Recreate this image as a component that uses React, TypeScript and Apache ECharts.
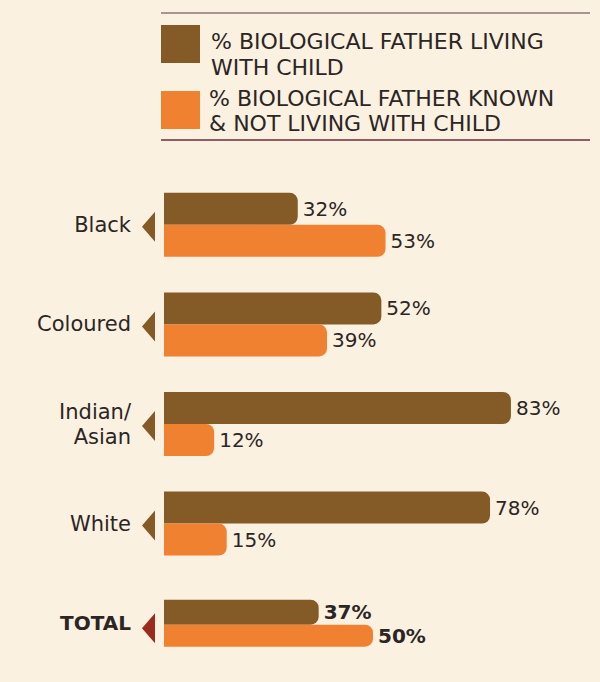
import React, { useEffect, useRef } from "react";
import * as echarts from "echarts";

const categories = ["Black", "Coloured", "Indian/\nAsian", "White", "TOTAL"];
const livingWith = [32, 52, 83, 78, "-"];
const knownNotLiving = [53, 39, 12, 15, "-"];
const totalLivingWith = ["-", "-", "-", "-", 37];
const totalKnownNotLiving = ["-", "-", "-", "-", 50];
const legendLiving = "% BIOLOGICAL FATHER LIVING\nWITH CHILD";
const legendKnown = "% BIOLOGICAL FATHER KNOWN\n& NOT LIVING WITH CHILD";

const BROWN = "#845a26";
const ORANGE = "#f08131";
const TEXT = "#2b2624";
const BG = "#fbf1e1";
const FONT = "DejaVu Sans";

export default function App() {
  const ref = useRef<HTMLDivElement>(null);
  useEffect(() => {
    document.body.style.margin = "0";
    const chart = echarts.init(ref.current!, null, { renderer: "svg" });
    const valueLabel = (bold: boolean) => ({
      show: true,
      position: "right",
      distance: 5,
      formatter: "{c}%",
      fontFamily: FONT,
      fontSize: 20,
      fontWeight: bold ? "bold" : "normal",
      color: TEXT,
    });
    const catAxis = (show: boolean) => ({
      type: "category",
      data: categories,
      inverse: true,
      show,
      axisLine: { show: false },
      axisTick: { show: false },
      axisLabel: {
        show,
        margin: 33,
        fontFamily: FONT,
        fontSize: 21,
        lineHeight: 25,
        color: TEXT,
        align: "right",
        formatter: (v: string) => (v === "TOTAL" ? "{b|TOTAL}" : v),
        rich: {
          b: { fontFamily: FONT, fontSize: 20, fontWeight: "bold", color: TEXT },
        },
      },
    });
    chart.setOption({
      animation: false,
      backgroundColor: BG,
      grid: { left: 164, right: 18, top: 175, bottom: 9 },
      xAxis: { type: "value", min: 0, max: 100, show: false },
      yAxis: [catAxis(true), catAxis(false)],
      series: [
        {
          type: "bar",
          name: "living",
          yAxisIndex: 0,
          data: livingWith,
          barWidth: 32,
          barGap: "0%",
          itemStyle: { color: BROWN, borderRadius: [0, 8, 8, 0] },
          label: valueLabel(false),
        },
        {
          type: "bar",
          name: "known",
          yAxisIndex: 0,
          data: knownNotLiving,
          barWidth: 32,
          barGap: "0%",
          itemStyle: { color: ORANGE, borderRadius: [0, 8, 8, 0] },
          label: valueLabel(false),
        },
        {
          type: "bar",
          name: "living total",
          yAxisIndex: 1,
          data: totalLivingWith,
          barWidth: 25,
          barGap: "0%",
          itemStyle: { color: BROWN, borderRadius: [0, 8, 8, 0] },
          label: valueLabel(true),
        },
        {
          type: "bar",
          name: "known total",
          yAxisIndex: 1,
          data: totalKnownNotLiving,
          barWidth: 22,
          barGap: "0%",
          itemStyle: { color: ORANGE, borderRadius: [0, 8, 8, 0] },
          label: valueLabel(true),
        },
        {
          type: "scatter",
          yAxisIndex: 0,
          symbol: "path://M13,0 L0,15 L13,30 Z",
          symbolSize: [13, 30],
          symbolKeepAspect: false,
          symbolOffset: [-15.5, 2],
          silent: true,
          itemStyle: { opacity: 1 },
          data: categories.map((c) =>
            c === "TOTAL"
              ? { value: [0, c], itemStyle: { color: "#9b2a1f", opacity: 1 }, symbolOffset: [-15.5, 5] }
              : { value: [0, c], itemStyle: { color: BROWN, opacity: 1 } }
          ),
        },
      ],
      graphic: [
        {
          type: "line",
          shape: { x1: 161, y1: 13, x2: 590, y2: 13 },
          style: { stroke: "#8e7574", lineWidth: 1.5 },
        },
        { type: "rect", shape: { x: 161, y: 25, width: 39, height: 38 }, style: { fill: BROWN } },
        {
          type: "text",
          x: 211,
          y: 54,
          style: {
            text: legendLiving,
            fontFamily: FONT,
            fontSize: 22,
            lineHeight: 26,
            fill: TEXT,
            verticalAlign: "middle",
          },
        },
        { type: "rect", shape: { x: 161, y: 91, width: 39, height: 38 }, style: { fill: ORANGE } },
        {
          type: "text",
          x: 209,
          y: 111,
          style: {
            text: legendKnown,
            fontFamily: FONT,
            fontSize: 22,
            lineHeight: 25,
            fill: TEXT,
            verticalAlign: "middle",
          },
        },
        {
          type: "line",
          shape: { x1: 161, y1: 140, x2: 590, y2: 140 },
          style: { stroke: "#6b2d3b", lineWidth: 1.5 },
        },
      ],
    });
    return () => chart.dispose();
  }, []);
  return (
    <div
      ref={ref}
      style={{ width: 600, height: 682, position: "absolute", left: 0, top: 0, background: BG }}
    />
  );
}
